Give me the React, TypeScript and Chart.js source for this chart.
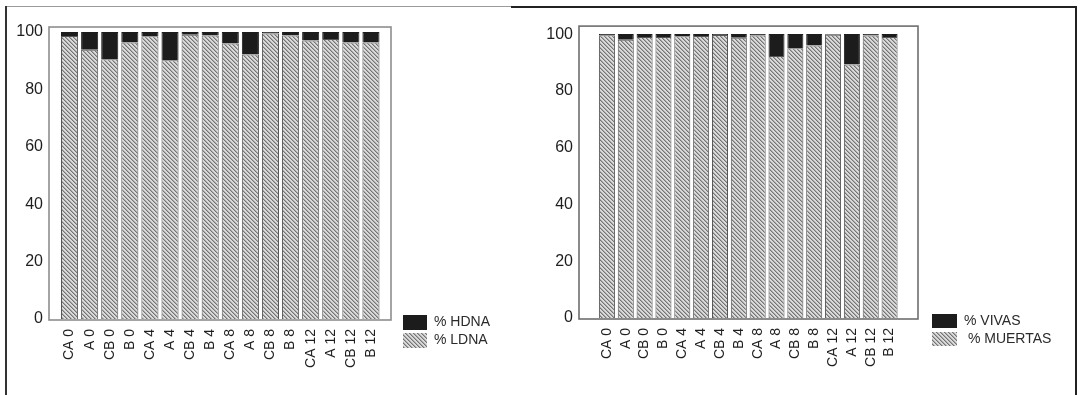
import React, { useEffect, useRef } from 'react';
import { Chart, registerables } from 'chart.js';

Chart.register(...registerables);

const categories = ['CA 0', 'A 0', 'CB 0', 'B 0', 'CA 4', 'A 4', 'CB 4', 'B 4', 'CA 8', 'A 8', 'CB 8', 'B 8', 'CA 12', 'A 12', 'CB 12', 'B 12'];

const ldnaValues = [98.6, 93.8, 90.5, 96.3, 98.5, 90.2, 99.0, 98.8, 96.0, 92.2, 99.5, 98.8, 97.0, 97.6, 96.3, 96.3];
const hdnaValues = [1.4, 6.2, 9.5, 3.7, 1.5, 9.8, 1.0, 1.2, 4.0, 7.8, 0.5, 1.2, 3.0, 2.4, 3.7, 3.7];

const muertasValues = [99.6, 98.0, 99.0, 99.0, 99.2, 99.3, 99.7, 98.7, 99.5, 92.3, 95.0, 96.0, 99.8, 89.3, 99.5, 99.0];
const vivasValues = [0.4, 2.0, 1.0, 1.0, 0.8, 0.7, 0.3, 1.3, 0.5, 7.7, 5.0, 4.0, 0.2, 10.7, 0.5, 1.0];

const yTickValues = [0, 20, 40, 60, 80, 100];

const FONT = '"Liberation Sans", Arial, Helvetica, sans-serif';

function makeHatch(ctx: CanvasRenderingContext2D): CanvasPattern | string {
  const tile = document.createElement('canvas');
  tile.width = 4;
  tile.height = 4;
  const t = tile.getContext('2d');
  if (!t) return '#b0b0b0';
  for (let x = 0; x < 4; x++) {
    for (let y = 0; y < 4; y++) {
      const d = (x - y + 8) % 4;
      t.fillStyle = d === 0 ? '#747474' : d === 1 ? '#aaaaaa' : '#dadada';
      t.fillRect(x, y, 1, 1);
    }
  }
  return ctx.createPattern(tile, 'repeat') || '#b0b0b0';
}

type PanelCfg = {
  bottomLabel: string;
  topLabel: string;
  bottomValues: number[];
  topValues: number[];
  padding: { left: number; top: number; right: number; bottom: number };
  yAxisWidth: number;
  xAxisHeight: number;
  yTickPadding: number;
  xTickPadding: number;
  frame: { l: number; r: number; t: number; b: number; color: string; width: number };
  legend: { left: number; top: number; boxWidth: number; boxHeight: number; padding: number };
};

function BarPanel({ cfg }: { cfg: PanelCfg }) {
  const ref = useRef<HTMLCanvasElement | null>(null);
  useEffect(() => {
    const canvas = ref.current;
    if (!canvas) return;
    const ctx = canvas.getContext('2d');
    if (!ctx) return;
    const hatch = makeHatch(ctx);

    const framePlugin = {
      id: 'frameBox',
      beforeDatasetsDraw(chart: any) {
        const a = chart.chartArea;
        const c = chart.ctx;
        c.save();
        c.strokeStyle = cfg.frame.color;
        c.lineWidth = cfg.frame.width;
        c.strokeRect(a.left - cfg.frame.l, a.top - cfg.frame.t, a.right - a.left + cfg.frame.l + cfg.frame.r, a.bottom - a.top + cfg.frame.t + cfg.frame.b);
        c.restore();
      },
    };

    const legendPlugin = {
      id: 'legendPlace',
      afterLayout(chart: any) {
        const lg = chart.legend;
        if (!lg) return;
        lg.left = cfg.legend.left;
        lg.top = cfg.legend.top;
        lg.width = 150;
        lg.height = 60;
        lg.right = lg.left + 150;
        lg.bottom = lg.top + 60;
      },
    };

    const chart = new Chart(ctx, {
      type: 'bar',
      data: {
        labels: categories,
        datasets: [
          {
            label: cfg.bottomLabel,
            data: cfg.bottomValues,
            backgroundColor: hatch as any,
            borderColor: '#555555',
            borderWidth: 1,
            barPercentage: 0.85,
            categoryPercentage: 1,
          },
          {
            label: cfg.topLabel,
            data: cfg.topValues,
            backgroundColor: '#1c1c1c',
            borderColor: '#1c1c1c',
            borderWidth: 1,
            barPercentage: 0.85,
            categoryPercentage: 1,
          },
        ],
      },
      options: {
        responsive: false,
        animation: false,
        layout: { padding: cfg.padding },
        plugins: {
          tooltip: { enabled: false },
          legend: {
            position: 'chartArea' as any,
            align: 'start',
            labels: {
              boxWidth: cfg.legend.boxWidth,
              boxHeight: cfg.legend.boxHeight,
              padding: cfg.legend.padding,
              color: '#2a2a2a',
              font: { family: FONT, size: 14 },
              generateLabels: (ch: any) => {
                const items = Chart.defaults.plugins.legend.labels.generateLabels(ch);
                return items.map((it: any) => ({ ...it, lineWidth: 0 })).reverse();
              },
            },
          },
        },
        scales: {
          x: {
            stacked: true,
            grid: { display: false, drawTicks: false },
            border: { display: false },
            ticks: {
              minRotation: 90,
              maxRotation: 90,
              autoSkip: false,
              padding: cfg.xTickPadding,
              color: '#1e1e1e',
              font: { family: FONT, size: 14 },
            },
            afterFit: (s: any) => {
              s.height = cfg.xAxisHeight;
            },
          },
          y: {
            stacked: true,
            min: 0,
            max: 100,
            grid: { display: false, drawTicks: false },
            border: { display: false },
            afterBuildTicks: (s: any) => {
              s.ticks = yTickValues.map((v) => ({ value: v }));
            },
            ticks: {
              padding: cfg.yTickPadding,
              color: '#1e1e1e',
              font: { family: FONT, size: 16 },
            },
            afterFit: (s: any) => {
              s.width = cfg.yAxisWidth;
            },
          },
        },
      },
      plugins: [framePlugin, legendPlugin],
    });
    return () => chart.destroy();
  }, [cfg]);
  return <canvas ref={ref} width={540} height={395} style={{ width: 540, height: 395, display: 'block' }} />;
}

const leftCfg: PanelCfg = {
  bottomLabel: '% LDNA',
  topLabel: '% HDNA',
  bottomValues: ldnaValues,
  topValues: hdnaValues,
  padding: { left: 0, top: 32, right: 159, bottom: 26 },
  yAxisWidth: 59.5,
  xAxisHeight: 50,
  yTickPadding: 16.5,
  xTickPadding: 10,
  frame: { l: 10.5, r: 10, t: 5, b: 1, color: '#8e8e8e', width: 1.6 },
  legend: { left: 400, top: 312, boxWidth: 24, boxHeight: 15, padding: 3 },
};

const rightCfg: PanelCfg = {
  bottomLabel: ' % MUERTAS',
  topLabel: '% VIVAS',
  bottomValues: muertasValues,
  topValues: vivasValues,
  padding: { left: 0, top: 32, right: 181, bottom: 27 },
  yAxisWidth: 57.5,
  xAxisHeight: 50,
  yTickPadding: 24.5,
  xTickPadding: 10,
  frame: { l: 18.5, r: 19, t: 8, b: 1, color: '#6e6e6e', width: 1.6 },
  legend: { left: 388, top: 310, boxWidth: 25, boxHeight: 14, padding: 4 },
};

export default function App() {
  return (
    <div style={{ position: 'fixed', left: 0, top: 0, width: 1080, height: 395, background: '#fff', overflow: 'hidden' }}>
      <div style={{ position: 'absolute', left: 5, top: 6, width: 506, height: 1, background: '#9a9a9a' }} />
      <div style={{ position: 'absolute', left: 5, top: 6, width: 1.5, height: 389, background: '#333' }} />
      <div style={{ position: 'absolute', left: 511, top: 6, width: 566, height: 1.5, background: '#222' }} />
      <div style={{ position: 'absolute', left: 1075, top: 6, width: 1.5, height: 389, background: '#222' }} />
      <div style={{ position: 'absolute', left: 0, top: 0 }}>
        <BarPanel cfg={leftCfg} />
      </div>
      <div style={{ position: 'absolute', left: 540, top: 0 }}>
        <BarPanel cfg={rightCfg} />
      </div>
    </div>
  );
}
